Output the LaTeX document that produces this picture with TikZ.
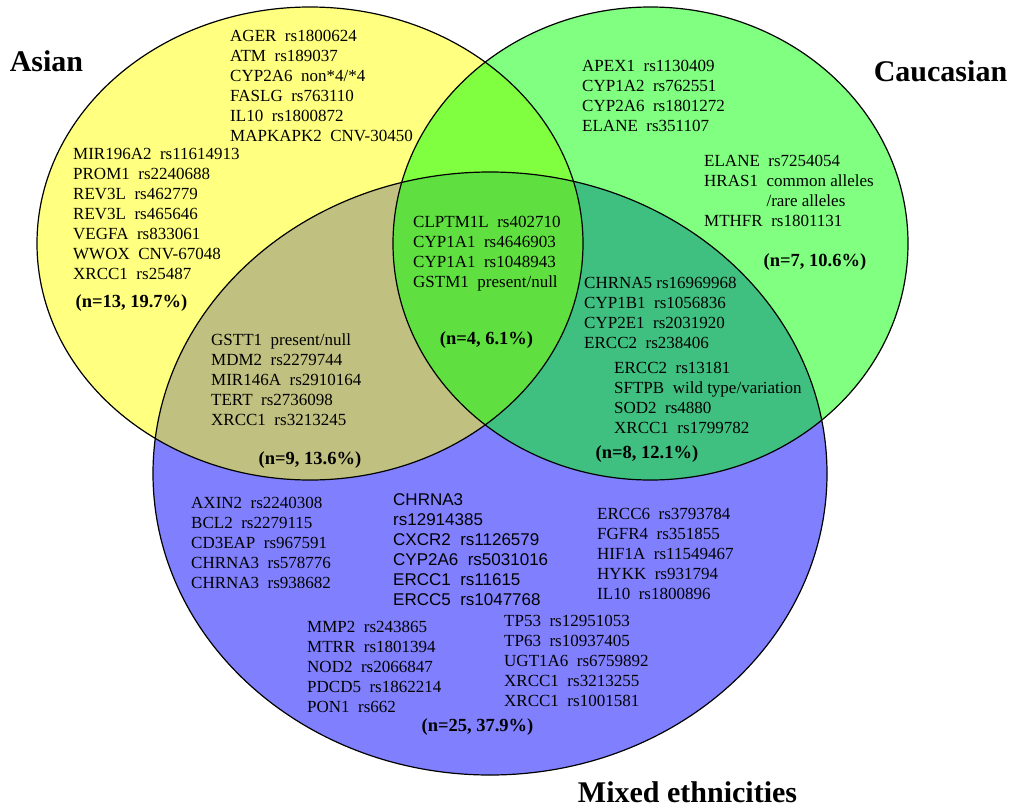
\documentclass[tikz,border=0pt]{standalone}
\usepackage{fontspec}
\setmainfont{Liberation Serif}
\newfontfamily\arialfont{Liberation Sans}
\usetikzlibrary{positioning}

\definecolor{asianfill}{RGB}{255,255,128}
\definecolor{caucfill}{RGB}{128,255,128}
\definecolor{mixfill}{RGB}{128,128,255}
\definecolor{acfill}{RGB}{128,255,64}
\definecolor{amfill}{RGB}{192,192,128}
\definecolor{cmfill}{RGB}{64,192,128}
\definecolor{allfill}{RGB}{96,224,64}

\tikzset{
	gene/.style={anchor=north west, inner sep=0pt, align=left, font=\fontsize{17}{20}\selectfont},
	count/.style={inner sep=0pt, font=\fontsize{18.5}{20}\selectfont\bfseries},
	group/.style={inner sep=0pt, font=\fontsize{30}{32}\selectfont\bfseries},
	ring/.style={line width=1.2pt, draw=black}
}
\newcommand{\topstrut}{\rule{0pt}{13pt}}
\newcommand{\asianpath}{(310,243.5) ellipse [x radius=273pt, y radius=236.5pt]}
\newcommand{\caucpath}{(650.5,243.5) ellipse [x radius=257.5pt, y radius=236.5pt]}
\newcommand{\mixpath}{(490,473.5) ellipse [x radius=337pt, y radius=301.5pt]}

\begin{document}
\begin{tikzpicture}[x=1pt,y=-1pt]
		\useasboundingbox (0,0) rectangle (1012,809);
		\fill[asianfill] \asianpath;
		\fill[caucfill] \caucpath;
		\fill[mixfill] \mixpath;
		
		% overlaps
		\begin{scope}
			\clip \asianpath;
			\fill[acfill] \caucpath;
			\fill[amfill] \mixpath;
		\end{scope}
		\begin{scope}
			\clip \caucpath;
			\fill[cmfill] \mixpath;
			\clip \mixpath;
			\fill[allfill] \asianpath;
		\end{scope}
		\draw[ring] \asianpath;
		\draw[ring] \caucpath;
		\draw[ring] \mixpath;
		
		% group names
		\node[group] (asian) at (46.5,61) {Asian};
		\node[group] (cauc) at (940.5,71) {Caucasian};
		\node[group] (mixed) at (687.5,792) {Mixed ethnicities};
		
		% Asian only
		\node[gene] (asianA) at (230,28.6) {\topstrut AGER~~rs1800624\\ATM~~rs189037\\CYP2A6~~non*4/*4\\FASLG~~rs763110\\IL10~~rs1800872\\MAPKAPK2~~CNV-30450};
		\node[gene] (asianB) at (73,146.6) {\topstrut MIR196A2~~rs11614913\\PROM1~~rs2240688\\REV3L~~rs462779\\REV3L~~rs465646\\VEGFA~~rs833061\\WWOX~~CNV-67048\\XRCC1~~rs25487};
		\node[count] (asianN) at (131.5,303) {(n=13, 19.7\%)};
		
		% Caucasian only
		\node[gene] (caucA) at (582,58.6) {\topstrut APEX1~~rs1130409\\CYP1A2~~rs762551\\CYP2A6~~rs1801272\\ELANE~~rs351107};
		\node[gene] (caucB) at (704,153.6) {\topstrut ELANE~~rs7254054\\HRAS1~~common alleles\\\phantom{HRAS1~~}/rare alleles\\MTHFR~~rs1801131};
		\node[count] (caucN) at (815,262) {(n=7, 10.6\%)};
		
		% all three
		\node[gene] (allA) at (413,214.6) {\topstrut CLPTM1L~~rs402710\\CYP1A1~~rs4646903\\CYP1A1~~rs1048943\\GSTM1~~present/null};
		\node[count] (allN) at (486.5,340) {(n=4, 6.1\%)};
		
		% Caucasian and mixed
		\node[gene] (cmA) at (584,275.6) {\topstrut CHRNA5 rs16969968\\CYP1B1~~rs1056836\\CYP2E1~~rs2031920\\ERCC2~~rs238406};
		\node[gene] (cmB) at (614,360.6) {\topstrut ERCC2~~rs13181\\SFTPB~~wild type/variation\\SOD2~~rs4880\\XRCC1~~rs1799782};
		\node[count] (cmN) at (647,454) {(n=8, 12.1\%)};
		
		% Asian and mixed
		\node[gene] (amA) at (211,332.6) {\topstrut GSTT1~~present/null\\MDM2~~rs2279744\\MIR146A~~rs2910164\\TERT~~rs2736098\\XRCC1~~rs3213245};
		\node[count] (amN) at (310,460) {(n=9, 13.6\%)};
		
		% mixed only
		\node[gene] (mixA) at (191,495.6) {\topstrut AXIN2~~rs2240308\\BCL2~~rs2279115\\CD3EAP~~rs967591\\CHRNA3~~rs578776\\CHRNA3~~rs938682};
		\node[gene, font=\fontsize{17}{20}\selectfont\arialfont] (mixS) at (393,492.1) {\topstrut CHRNA3\\rs12914385\\CXCR2~~rs1126579\\CYP2A6~~rs5031016\\ERCC1~~rs11615\\ERCC5~~rs1047768};
		\node[gene] (mixB) at (597,506.6) {\topstrut ERCC6~~rs3793784\\FGFR4~~rs351855\\HIF1A~~rs11549467\\HYKK~~rs931794\\IL10~~rs1800896};
		\node[gene] (mixC) at (307,619.6) {\topstrut MMP2~~rs243865\\MTRR~~rs1801394\\NOD2~~rs2066847\\PDCD5~~rs1862214\\PON1~~rs662};
		\node[gene] (mixD) at (504,613.6) {\topstrut TP53~~rs12951053\\TP63~~rs10937405\\UGT1A6~~rs6759892\\XRCC1~~rs3213255\\XRCC1~~rs1001581};
		\node[count] (mixN) at (477.5,727) {(n=25, 37.9\%)};
	\end{tikzpicture}
\end{document}
